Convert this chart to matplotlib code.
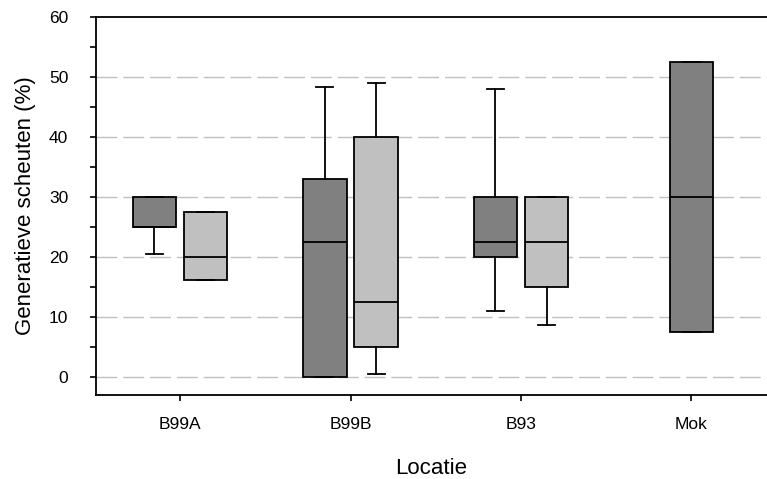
import numpy as np
import matplotlib
matplotlib.use("Agg")
import matplotlib.pyplot as plt

plt.rcParams['font.family'] = ['Liberation Sans', 'DejaVu Sans']

# categorieen
locaties = ["B99A", "B99B", "B93", "Mok"]

# donkere boxen (alle locaties)
donker_min = [20.5, 0.0, 11.0, 7.5]
donker_q1 = [25.0, 0.0, 20.0, 7.5]
donker_med = [25.0, 22.5, 22.5, 30.0]
donker_q3 = [30.0, 33.0, 30.0, 52.5]
donker_max = [30.0, 48.3, 48.0, 52.5]

# lichte boxen (geen Mok)
licht_min = [16.2, 0.5, 8.6]
licht_q1 = [16.2, 5.0, 15.0]
licht_med = [20.0, 12.5, 22.5]
licht_q3 = [27.5, 40.0, 30.0]
licht_max = [27.5, 49.0, 30.0]


def maak_stats(mn, q1, med, q3, mx):
    return [dict(whislo=a, q1=b, med=c, q3=d, whishi=e, fliers=[])
            for a, b, c, d, e in zip(mn, q1, med, q3, mx)]


fig = plt.figure(figsize=(7.67, 4.79), dpi=100)
ax = fig.add_axes([96/767, 84/479, 671/767, 378/479])

x = np.arange(len(locaties))
pos_donker = [i - 0.15 if i < 3 else i for i in x]
pos_licht = [i + 0.15 for i in x[:3]]

for y in range(0, 60, 10):
    ax.axhline(y, color="#c0c0c0", lw=1.0, dashes=(15, 4.3), zorder=0)

lijn = dict(color="black", linewidth=1.3)
for stats, pos, kleur in [
    (maak_stats(donker_min, donker_q1, donker_med, donker_q3, donker_max), pos_donker, "#808080"),
    (maak_stats(licht_min, licht_q1, licht_med, licht_q3, licht_max), pos_licht, "#c0c0c0"),
]:
    ax.bxp(stats, positions=pos, widths=0.255, patch_artist=True,
           showfliers=False, capwidths=0.1,
           boxprops=dict(facecolor=kleur, edgecolor="black", linewidth=1.3),
           medianprops=lijn, whiskerprops=lijn, capprops=lijn, zorder=2)

ax.set_xlim(-0.493, 3.443)
ax.set_ylim(-3, 60)
ax.set_xticks(x)
ax.set_xticklabels(locaties)
ax.set_yticks(np.arange(0, 61, 10))
ax.set_yticks(np.arange(5, 60, 10), minor=True)

ax.spines["right"].set_visible(False)
for s in ["left", "bottom", "top"]:
    ax.spines[s].set_linewidth(1.3)

ax.tick_params(axis="both", which="major", length=4, width=1.2, labelsize=12.5)
ax.tick_params(axis="x", which="major", pad=12)
ax.tick_params(axis="y", which="major", pad=16)
ax.tick_params(axis="y", which="minor", length=4, width=1.2)

ax.set_xlabel("Locatie", fontsize=16, labelpad=18.5)
ax.set_ylabel("Generatieve scheuten (%)", fontsize=16, labelpad=9)

fig.savefig("out.png", dpi=100)
